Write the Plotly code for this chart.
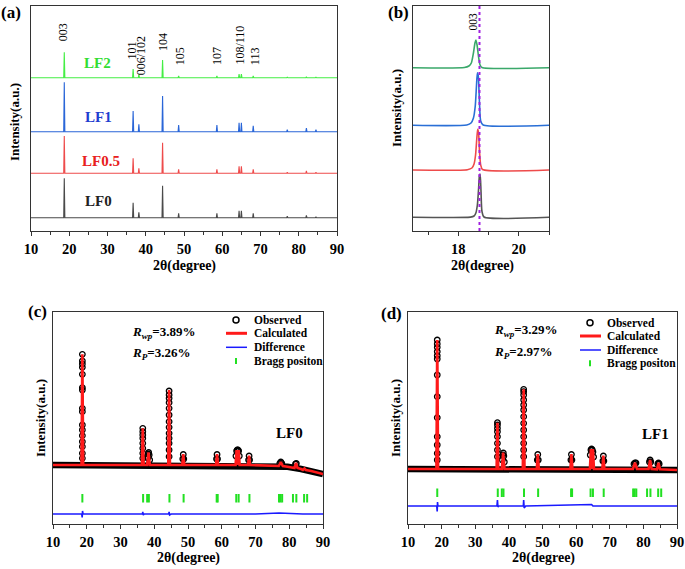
import plotly.graph_objects as go

W, H = 685, 569
FONT = "Liberation Serif, Times New Roman, serif"

# ---------------- data: panel (a) ----------------
PEAK_POS_A = [18.7, 36.7, 38.2, 44.4, 48.6, 58.6, 64.4, 65.0, 68.1, 77.0, 82.0, 84.5]
SERIES_A = ["LF0", "LF0.5", "LF1", "LF2"]
BASE_A = [13.3, 57.7, 99.3, 153.3]
LF0_H = [39.4, 15.0, 5.4, 32.0, 4.4, 4.4, 7.0, 7.0, 4.4, 1.5, 2.4, 1.0]
LF05_H = [37.3, 15.0, 5.0, 30.6, 4.0, 4.0, 7.0, 7.0, 4.0, 1.0, 2.3, 1.0]
LF1_H = [49.4, 20.7, 7.4, 35.7, 6.7, 6.7, 9.0, 9.0, 6.0, 2.0, 3.7, 2.0]
LF2_H = [25.4, 8.7, 3.0, 17.7, 1.7, 1.7, 3.7, 3.7, 1.7, 0.5, 1.0, 0.5]
HEIGHTS_A = [LF0_H, LF05_H, LF1_H, LF2_H]
LINE_COLORS_A = ["#4a4a4a", "#ee4b4b", "#2a66d8", "#44ee44"]
LABEL_COLORS_A = ["#222222", "#e82020", "#1f3fd0", "#33dd33"]
LABEL_X_A = [27.6, 28.2, 27.6, 27.5]
LABEL_Y_A = [30, 70.3, 114.3, 167.7]

HKL_LABELS = ["003", "101", "006/102", "104", "105", "107", "108/110", "113"]
HKL_X = [18.4, 36.3, 38.7, 44.5, 49.0, 58.6, 64.4, 68.6]
HKL_Y = [188, 169, 154, 178, 164, 164, 164, 164]

# ---------------- data: panel (b) ----------------
B_GRAY_X = [16.5, 18.40, 18.52, 18.58, 18.63, 18.67, 18.70, 18.72, 18.75, 18.78, 18.85, 21]
B_GRAY_Y = [13.7, 13.9, 15, 18, 26, 42, 56, 57, 40, 20, 14, 13.7]
B_RED_X = [16.5, 18.30, 18.45, 18.52, 18.57, 18.61, 18.64, 18.67, 18.70, 18.74, 18.80, 21]
B_RED_Y = [61, 61.3, 63, 67, 76, 92, 101.7, 98, 80, 66, 61.5, 61]
B_BLUE_X = [16.5, 18.28, 18.42, 18.50, 18.56, 18.60, 18.63, 18.66, 18.70, 18.74, 18.82, 21]
B_BLUE_Y = [105.7, 106, 108, 113, 125, 145, 158.3, 155, 128, 110, 106, 105.7]
B_GREEN_X = [16.5, 18.20, 18.35, 18.43, 18.50, 18.55, 18.58, 18.62, 18.67, 18.72, 18.78, 21]
B_GREEN_Y = [163.3, 163.5, 165, 168, 178, 188, 191, 186, 174, 166, 163.5, 163.3]
B_REF_LINE = 18.7

# ---------------- data: panel (c) LF0 ----------------
C_BASE_X = [10, 76, 79.5, 83.5, 86.5, 88, 90]
C_BASE_Y = [59, 58.5, 57.2, 55, 53, 51.5, 50]
REF_POS = [18.7, 36.6, 38.3, 44.4, 48.6, 58.6, 64.4, 65.0, 68.1, 77.5, 82.0, 84.5]
REF_HW = [0.25, 0.25, 0.4, 0.25, 0.3, 0.3, 0.3, 0.3, 0.3, 0.6, 0.45, 0.45]
C_TOP = [169.7, 95.7, 71.5, 134, 70, 70, 74, 74, 68.3, 62, 61, 55.5]
C_PEAK_BASE = [59, 59, 59, 59, 59, 59, 59, 59, 59, 58, 56, 54]
C_OBS_COLS = {
    18.7: [169.7, 163, 160, 156.7, 149.7, 136.3, 134, 115.7, 112.3, 99, 94, 88.3, 82.3, 77.3, 70.7, 65.7],
    36.6: [95.7, 92.3, 89, 85.7, 80.7, 75.7, 70.7, 65.7],
    44.4: [133, 129, 125.7, 121.3, 115.7, 109, 102.3, 96.7, 90.7, 85.7, 80.7, 74, 67.3],
}
C_OBS_X = [38.05, 38.2, 38.35, 38.5, 38.65, 48.45, 48.6, 48.75, 58.45, 58.6, 58.75,
           64.2, 64.4, 64.6, 64.8, 65.0, 65.2, 67.95, 68.1, 68.25, 77.2, 77.5, 77.8, 81.85, 82.1]
C_OBS_Y = [66, 70, 71.5, 69, 64, 65, 69.5, 65, 65, 69.5, 65,
           68, 73, 74, 74, 73, 68, 64, 68, 64, 60.5, 62, 60.5, 60, 60.5]
C_DIFF_X = [10, 18.5, 18.65, 18.75, 18.9, 36.5, 36.6, 36.75, 37, 44.3, 44.4, 44.55, 45, 70, 77, 84, 90]
C_DIFF_Y = [10, 10, 6.5, 13, 10, 10, 12, 9, 10, 10, 12, 9, 10, 10, 11, 10, 10]
BRAGG_POS = [18.7, 36.7, 37.9, 38.4, 44.5, 48.7, 58.5, 58.8, 64.3, 65.0, 68.2,
             76.96, 77.4, 77.9, 81.1, 82.1, 84.4, 85.3]
C_BRAGG_Y = 25.7
C_RWP = "3.89%"
C_RP = "3.26%"

# ---------------- data: panel (d) LF1 ----------------
D_BASE_X = [10, 60, 75, 86.5, 90]
D_BASE_Y = [55, 55, 55, 54.5, 54]
D_TOP = [184, 101.3, 71.3, 134.7, 70, 70, 75, 75, 68.3, 61.3, 64, 61.3]
D_PEAK_BASE = [55, 55, 55, 55, 55, 55, 55, 55, 55, 55, 55, 54.7]
D_OBS_COLS = {
    18.7: [184, 180, 176.7, 172.3, 168.3, 165, 149, 127.3, 106.3, 87.3, 79, 70.7, 64],
    36.6: [101.3, 99, 95.7, 92.3, 87.3, 80.7, 74, 67.3],
    44.4: [134.7, 132.3, 129, 124, 119, 114, 107.3, 100.7, 94, 87.3, 80.7, 74, 67.3],
}
D_OBS_X = [38.05, 38.2, 38.35, 38.5, 38.65, 48.45, 48.6, 48.75, 58.45, 58.6, 58.75,
           64.2, 64.4, 64.6, 64.8, 65.0, 65.2, 67.95, 68.1, 68.25, 77.2, 77.5, 77.8,
           81.8, 82.0, 82.2, 84.3, 84.5, 84.7]
D_OBS_Y = [64, 69, 71, 68, 62, 64, 69.5, 64, 64, 69.5, 64,
           69, 74, 75, 74, 72, 67, 63, 68, 63, 60, 61, 61,
           62, 64, 62, 60, 61, 60]
D_DIFF_X = [10, 18.55, 18.68, 18.78, 18.9, 36.45, 36.6, 36.75, 37, 44.3, 44.4, 44.55, 45, 64.6, 64.8, 65, 90]
D_DIFF_Y = [18, 18, 12.5, 22, 18, 18, 24, 17, 18, 18, 24, 16, 18, 19.5, 18, 18, 18]
D_BRAGG_Y = 31.3
D_RWP = "3.29%"
D_RP = "2.97%"

LEGEND_TEXT = ["Observed", "Calculated", "Difference", "Bragg positon"]

RED = "#ff1a1a"
BLUE = "#1a1aff"
GREEN = "#22e022"


# ---------------- helpers ----------------
def stick_profile(pos, heights, base, hw=0.15, x0=10, x1=90):
    xs, ys = [x0], [base]
    for p, h in zip(pos, heights):
        xs += [p - hw, p, p + hw]
        ys += [base, base + h, base]
    xs.append(x1)
    ys.append(base)
    return xs, ys


def merged_profile(bx, by, pos, tops, bases, hws):
    pts = list(zip(bx, by))
    for p, t, b, w in zip(pos, tops, bases, hws):
        pts += [(p - w, b), (p, t), (p + w, b)]
    pts.sort()
    return [p[0] for p in pts], [p[1] for p in pts]


def px_x(x):
    return x / W


def px_y(y):
    return 1 - y / H


fig = go.Figure()

# ---------------- panel (a) ----------------
for name, base, hs, col in zip(SERIES_A, BASE_A, HEIGHTS_A, LINE_COLORS_A):
    xs, ys = stick_profile(PEAK_POS_A, hs, base)
    fig.add_trace(go.Scatter(x=xs, y=ys, mode="lines", line=dict(color=col, width=1.1),
                             xaxis="x", yaxis="y", showlegend=False, name=name))

# ---------------- panel (b) ----------------
for xs, ys, col in [(B_GRAY_X, B_GRAY_Y, "#555555"), (B_RED_X, B_RED_Y, "#ee4b4b"),
                    (B_BLUE_X, B_BLUE_Y, "#2a6fd6"), (B_GREEN_X, B_GREEN_Y, "#3aa86a")]:
    fig.add_trace(go.Scatter(x=xs, y=ys, mode="lines",
                             line=dict(color=col, width=1.6, shape="spline", smoothing=0.6),
                             xaxis="x2", yaxis="y2", showlegend=False))


# ---------------- panels (c) & (d) ----------------
def rietveld(ax, ay, bx, by, tops, pbases, cols, ox, oy, dx, dy, bragg_y):
    # observed baseline band
    fig.add_trace(go.Scatter(x=bx, y=by, mode="lines", line=dict(color="black", width=6.5),
                             xaxis=ax, yaxis=ay, showlegend=False))
    # observed circles
    oxs, oys = [], []
    for k, v in cols.items():
        oxs += [k] * len(v)
        oys += v
    oxs += ox
    oys += oy
    fig.add_trace(go.Scatter(x=oxs, y=oys, mode="markers",
                             marker=dict(symbol="circle-open", size=5.5, color="black", line=dict(width=1.3)),
                             xaxis=ax, yaxis=ay, showlegend=False))
    # calculated (on top)
    cx, cy = merged_profile(bx, by, REF_POS, tops, pbases, REF_HW)
    fig.add_trace(go.Scatter(x=cx, y=cy, mode="lines", line=dict(color=RED, width=2.6),
                             xaxis=ax, yaxis=ay, showlegend=False))
    # difference
    fig.add_trace(go.Scatter(x=dx, y=dy, mode="lines", line=dict(color=BLUE, width=1.6),
                             xaxis=ax, yaxis=ay, showlegend=False))
    # bragg positions
    fig.add_trace(go.Scatter(x=BRAGG_POS, y=[bragg_y] * len(BRAGG_POS), mode="markers",
                             marker=dict(symbol="line-ns", size=6, line=dict(color=GREEN, width=2)),
                             xaxis=ax, yaxis=ay, showlegend=False))


rietveld("x3", "y3", C_BASE_X, C_BASE_Y, C_TOP, C_PEAK_BASE, C_OBS_COLS, C_OBS_X, C_OBS_Y,
         C_DIFF_X, C_DIFF_Y, C_BRAGG_Y)
rietveld("x4", "y4", D_BASE_X, D_BASE_Y, D_TOP, D_PEAK_BASE, D_OBS_COLS, D_OBS_X, D_OBS_Y,
         D_DIFF_X, D_DIFF_Y, D_BRAGG_Y)


# ---------------- axes ----------------
def xax(domain, rng, dtick, anchor):
    return dict(domain=domain, range=rng, anchor=anchor, showline=True, linecolor="#333", linewidth=1.2,
                mirror=True, ticks="outside", ticklen=4, tickwidth=1.2, tickcolor="#333", dtick=dtick, tick0=0,
                tickfont=dict(family=FONT, size=14.5, color="black", weight="bold"),
                minor=dict(ticks="outside", ticklen=3, dtick=dtick / 2, tickcolor="#333", tickwidth=1),
                showgrid=False, zeroline=False, automargin=False, fixedrange=True)


def yax(domain, rng, anchor):
    return dict(domain=domain, range=rng, anchor=anchor, showline=True, linecolor="#333", linewidth=1.2,
                mirror=True, ticks="", showticklabels=False, showgrid=False, zeroline=False,
                automargin=False, fixedrange=True)


dom_a_x = [31 / W, 337 / W]
dom_b_x = [413 / W, 549 / W]
dom_ab_y = [1 - 231 / H, 1 - 6 / H]
dom_c_x = [53 / W, 323 / W]
dom_d_x = [408 / W, 677 / W]
dom_cd_y = [1 - 524 / H, 1 - 311.5 / H]

fig.update_layout(
    width=W, height=H, margin=dict(l=0, r=0, t=0, b=0, pad=0), autosize=False,
    paper_bgcolor="white", plot_bgcolor="white", showlegend=False,
    font=dict(family=FONT, color="black"),
    xaxis=xax(dom_a_x, [10, 90], 10, "y"),
    yaxis=yax(dom_ab_y, [0, 225], "x"),
    xaxis2=xax(dom_b_x, [16.5, 21], 2, "y2"),
    yaxis2=yax(dom_ab_y, [0, 225], "x2"),
    xaxis3=xax(dom_c_x, [10, 90], 10, "y3"),
    yaxis3=yax(dom_cd_y, [0, 212.5], "x3"),
    xaxis4=xax(dom_d_x, [10, 90], 10, "y4"),
    yaxis4=yax(dom_cd_y, [0, 212.5], "x4"),
)

ann = []
shapes = []

# hkl labels in (a)
for t, x, y in zip(HKL_LABELS, HKL_X, HKL_Y):
    ann.append(dict(text=t, x=x, y=y, xref="x", yref="y", textangle=-90, showarrow=False,
                    yanchor="bottom", xanchor="center", font=dict(family=FONT, size=12, color="black")))
# series labels in (a)
for t, x, y, c in zip(SERIES_A, LABEL_X_A, LABEL_Y_A, LABEL_COLORS_A):
    ann.append(dict(text=t, x=x, y=y, xref="x", yref="y", showarrow=False,
                    xanchor="center", yanchor="middle",
                    font=dict(family=FONT, size=15, color=c, weight="bold")))
# 003 label in (b)
ann.append(dict(text="003", x=18.47, y=198, xref="x2", yref="y2", textangle=-90, showarrow=False,
                yanchor="bottom", xanchor="center", font=dict(family=FONT, size=11.5, color="black")))
shapes.append(dict(type="line", xref="x2", yref="y2", x0=B_REF_LINE, x1=B_REF_LINE, y0=0, y1=225,
                   line=dict(color="#a020e0", width=2, dash="dot")))

# panel letters
for t, x, y in [("(a)", 11, 13), ("(b)", 398, 13), ("(c)", 37, 311), ("(d)", 392, 313)]:
    ann.append(dict(text=t, x=px_x(x), y=px_y(y), xref="paper", yref="paper", showarrow=False,
                    xanchor="center", yanchor="middle",
                    font=dict(family=FONT, size=17, color="black", weight="bold")))

# axis titles
for x, y in [(14, 122), (397, 108), (40, 418), (395, 418)]:
    ann.append(dict(text="Intensity(a.u.)", x=px_x(x), y=px_y(y), xref="paper", yref="paper",
                    textangle=-90, showarrow=False, xanchor="center", yanchor="middle",
                    font=dict(family=FONT, size=13, color="black", weight="bold")))
for x, y in [(184, 266), (482, 266), (188, 558), (543, 558)]:
    ann.append(dict(text="2θ(degree)", x=px_x(x), y=px_y(y), xref="paper", yref="paper",
                    showarrow=False, xanchor="center", yanchor="middle",
                    font=dict(family=FONT, size=14, color="black", weight="bold")))

# R factors and sample names
for ax, ay, rwp, rp, xr, yr1, yr2, name, xn, yn in [
    ("x3", "y3", C_RWP, C_RP, 32.8, 192, 171, "LF0", 80.2, 90.7),
    ("x4", "y4", D_RWP, D_RP, 34.9, 194, 171.7, "LF1", 83.5, 90),
]:
    ann.append(dict(text="<i>R</i><sub><i>wp</i></sub>=" + rwp, x=xr, y=yr1, xref=ax, yref=ay,
                    xanchor="left", yanchor="middle", showarrow=False,
                    font=dict(family=FONT, size=13, color="black", weight="bold")))
    ann.append(dict(text="<i>R</i><sub><i>P</i></sub>=" + rp, x=xr, y=yr2, xref=ax, yref=ay,
                    xanchor="left", yanchor="middle", showarrow=False,
                    font=dict(family=FONT, size=13, color="black", weight="bold")))
    ann.append(dict(text=name, x=xn, y=yn, xref=ax, yref=ay, showarrow=False,
                    xanchor="center", yanchor="middle",
                    font=dict(family=FONT, size=15, color="black", weight="bold")))

# manual legends
for sx, rows, tx in [(236, [320, 333.3, 347.3, 361], 252), (590, [322.7, 336, 350, 363.3], 605)]:
    for t, ry in zip(LEGEND_TEXT, rows):
        ann.append(dict(text=t, x=px_x(tx), y=px_y(ry), xref="paper", yref="paper",
                        xanchor="left", yanchor="middle", showarrow=False,
                        font=dict(family=FONT, size=11.5, color="black", weight="bold")))
    shapes.append(dict(type="circle", xref="paper", yref="paper",
                       x0=px_x(sx - 3), x1=px_x(sx + 3), y0=px_y(rows[0] + 3), y1=px_y(rows[0] - 3),
                       line=dict(color="black", width=1.5)))
    shapes.append(dict(type="line", xref="paper", yref="paper", x0=px_x(sx - 10), x1=px_x(sx + 11),
                       y0=px_y(rows[1]), y1=px_y(rows[1]), line=dict(color=RED, width=3)))
    shapes.append(dict(type="line", xref="paper", yref="paper", x0=px_x(sx - 10), x1=px_x(sx + 11),
                       y0=px_y(rows[2]), y1=px_y(rows[2]), line=dict(color=BLUE, width=1.5)))
    shapes.append(dict(type="line", xref="paper", yref="paper", x0=px_x(sx), x1=px_x(sx),
                       y0=px_y(rows[3] + 3), y1=px_y(rows[3] - 3), line=dict(color=GREEN, width=2)))

fig.update_layout(annotations=ann, shapes=shapes)
fig.write_html("out.html", config={"displayModeBar": False},
               post_script="document.body.style.margin='0';document.body.style.overflow='hidden';")
